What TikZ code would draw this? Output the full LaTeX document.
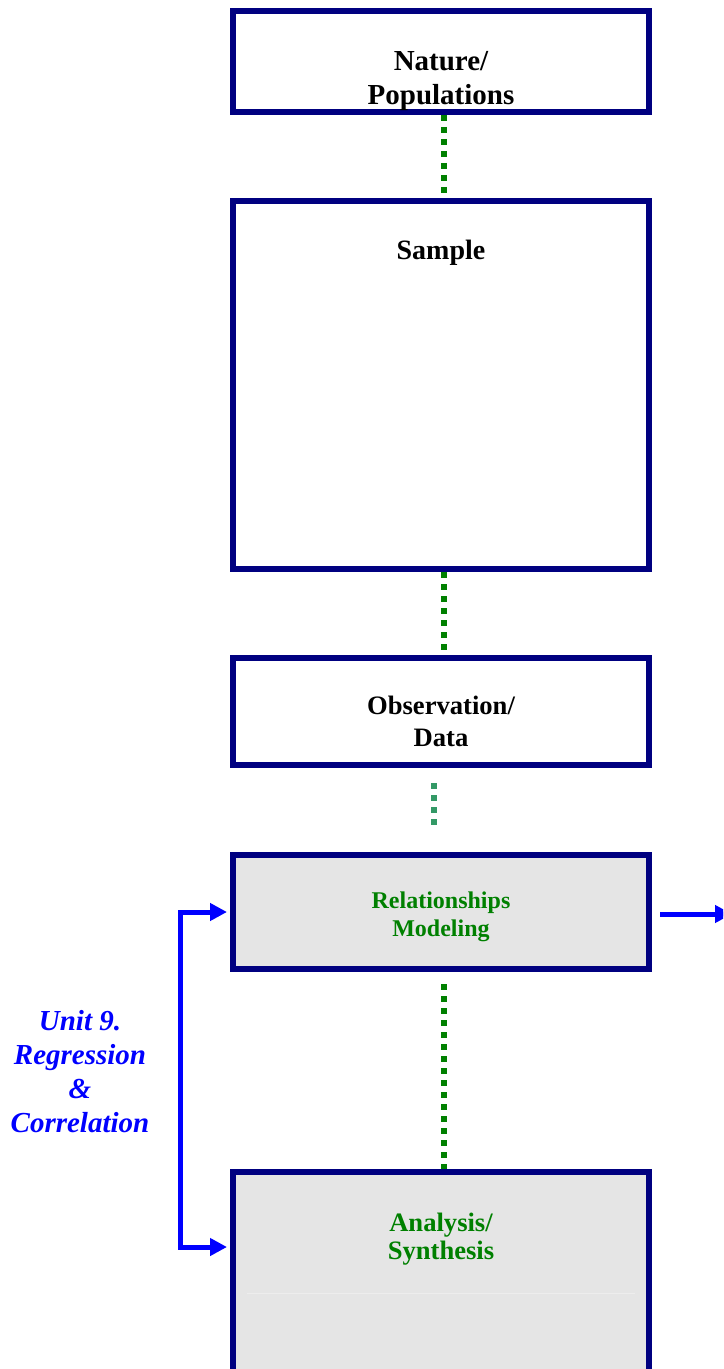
\documentclass[tikz,border=0pt]{standalone}
\usepackage{fontspec}
\setmainfont{Liberation Serif}
\usepackage{tikz}
\usetikzlibrary{positioning,calc,arrows.meta}
\definecolor{boxnavy}{HTML}{000080}
\definecolor{dotgreen}{HTML}{008000}
\definecolor{dotsea}{HTML}{339966}
\definecolor{boxgray}{HTML}{E5E5E5}
\definecolor{faintline}{HTML}{EDEDED}
\def\BoxWidth{208pt}
\def\BoxGap{41.5pt}

\begin{document}
\begin{tikzpicture}[x=0.5pt,y=-0.5pt,
	stagebox/.style={draw=boxnavy,line width=3pt,rectangle,minimum width=\BoxWidth,inner sep=0pt},
	shadedbox/.style={stagebox,fill=boxgray},
	linkdots/.style={dotgreen,line width=3pt,dash pattern=on 3pt off 3pt},
	unitarrow/.style={blue,line width=2.5pt,-{Triangle[length=8.5pt,width=8.5pt]}},
	stagetext/.style={align=center,font=\bfseries,inner sep=0pt}]
	\useasboundingbox (0,0) rectangle (723,1369);
	\clip (0,0) rectangle (723,1369);
	% stages
	\node[stagebox,minimum height=50.5pt] (nature) at (441,61.5) {};
	\node[stagebox,minimum height=184pt,below=\BoxGap of nature] (sample) {};
	\node[stagebox,minimum height=53.5pt,below=\BoxGap of sample] (obs) {};
	\node[shadedbox,minimum height=57pt,below=42pt of obs] (rel) {};
	\node[shadedbox,minimum height=114pt,below=98.5pt of rel] (ana) {};
	% 
	\node[stagetext,font=\fontsize{14.5}{17}\selectfont\bfseries] (naturetxt) at ([yshift=-36.5pt]nature.north) {Nature/\\Populations};
	\node[stagetext,font=\fontsize{14}{17}\selectfont\bfseries] (sampletxt) at ([yshift=-27.5pt]sample.north) {Sample};
	\node[stagetext,font=\fontsize{13.3}{16}\selectfont\bfseries] (obstxt) at ([yshift=-33pt]obs.north) {Observation/\\Data};
	\node[stagetext,text=dotgreen,font=\fontsize{12}{14}\selectfont\bfseries] (reltxt) at ([yshift=-2.5pt]rel.center) {Relationships\\Modeling};
	\node[stagetext,text=dotgreen,font=\fontsize{13.3}{14}\selectfont\bfseries] (anatxt) at ([yshift=-35pt]ana.north) {Analysis/\\Synthesis};
	\draw[faintline,line width=0.5pt] ($(ana.north west)+(17,124)$) -- ($(ana.north east)+(-17,124)$);
	% dotted links
	\draw[linkdots] ([xshift=1.5pt]nature.south) -- ([xshift=1.5pt]sample.north);
	\draw[linkdots] ([xshift=1.5pt]sample.south) -- ([xshift=1.5pt]obs.north);
	\draw[linkdots,dotsea] ([xshift=-3.5pt,yshift=-7.5pt]obs.south) -- ([xshift=-3.5pt,yshift=13.5pt]rel.north);
	\draw[linkdots,shorten <=6pt] ([xshift=1.5pt]rel.south) -- ([xshift=1.5pt]ana.north);
	% unit bracket
	\coordinate (bendtop) at ($(rel.west)+(-50,0)$);
	\coordinate (anain) at ([xshift=-1.5pt,yshift=-39pt]ana.north west);
	\draw[unitarrow,{Triangle[length=8.5pt,width=8.5pt]}-{Triangle[length=8.5pt,width=8.5pt]}] ([xshift=-1.5pt]rel.west) -- (bendtop) |- (anain);
	\draw[unitarrow] ([xshift=4pt,yshift=-1pt]rel.east) -- ++(72,0);
	\node[stagetext,text=blue,font=\fontsize{14.5}{17}\selectfont\bfseries\itshape] (unittxt) at (80,1072) {Unit 9.\\Regression\\\&\\Correlation};
\end{tikzpicture}
\end{document}
